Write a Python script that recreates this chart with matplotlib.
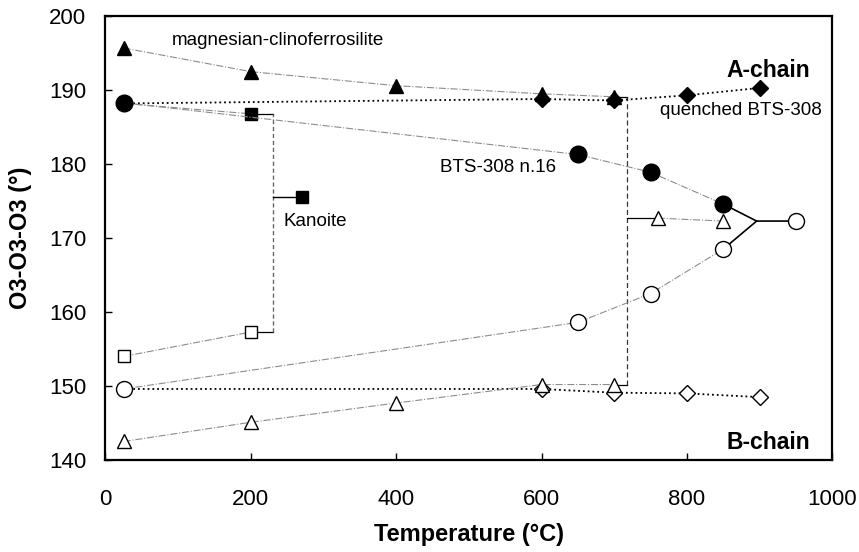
import matplotlib.pyplot as plt

plt.rcParams['font.family'] = ['Liberation Sans', 'DejaVu Sans']

# magnesian-clinoferrosilite
mcf_T = [25, 200, 400, 600, 700]
mcf_A = [195.7, 192.5, 190.6, 189.5, 189.1]
mcf_B = [142.5, 145.1, 147.7, 150.2, 150.2]
# high-T A-chain (open triangles above transition)
mcf_hT = [760, 850]
mcf_hA = [172.7, 172.3]
mcf_trans = 718

# Kanoite
kan_T = [25, 200]
kan_A = [188.2, 186.8]
kan_B = [154.0, 157.3]
kan_trans = 230
kan_label_pt = (270, 175.5)

# BTS-308 n.16
bts_T = [25, 650, 750, 850]
bts_A = [188.3, 181.3, 178.9, 174.6]
bts_B = [149.6, 158.6, 162.5, 168.5]
bts_join = (896, 172.3)
bts_hT = [950]
bts_hV = [172.3]

# quenched BTS-308
q_T = [25, 600, 700, 800, 900]
q_A = [188.2, 188.8, 188.6, 189.3, 190.3]
q_B = [149.6, 149.6, 149.1, 149.0, 148.5]

fig = plt.figure(figsize=(8.59, 5.52), dpi=100)
ax = fig.add_axes([0.1228, 0.1667, 0.846, 0.804])

gray = dict(color='#8c8c8c', lw=0.8, ls='-.')

# quenched lines (dotted black)
ax.plot(q_T, q_A, color='black', ls=':', lw=1.3, marker='D', ms=8,
        mfc='black', mec='black', markevery=[1, 2, 3, 4], zorder=3)
ax.plot(q_T, q_B, color='black', ls=':', lw=1.3, marker='D', ms=8,
        mfc='white', mec='black', markevery=[1, 2, 3, 4], zorder=3)

# magnesian-clinoferrosilite
ax.plot(mcf_T, mcf_A, marker='^', ms=10, mfc='black', mec='black', zorder=4, **gray)
ax.plot(mcf_T, mcf_B, marker='^', ms=10, mfc='white', mec='black', zorder=4, **gray)
ax.plot(mcf_hT, mcf_hA, marker='^', ms=10, mfc='white', mec='black', zorder=4, **gray)
ax.plot([mcf_T[-1], mcf_trans], [mcf_A[-1], mcf_A[-1]], color='black', lw=0.9, zorder=2)
ax.plot([mcf_T[-1], mcf_trans], [mcf_B[-1], mcf_B[-1]], color='black', lw=0.9, zorder=2)
ax.plot([mcf_trans, mcf_trans], [mcf_B[-1], mcf_A[-1]], color='#333333', lw=0.9,
        ls=(0, (4, 2.5)), zorder=2)
ax.plot([mcf_trans, mcf_hT[0]], [mcf_hA[0], mcf_hA[0]], color='black', lw=0.9, zorder=2)

# Kanoite
ax.plot(kan_T, kan_A, marker='s', ms=8, mfc='black', mec='black', markevery=[1], zorder=4, **gray)
ax.plot(kan_T, kan_B, marker='s', ms=8, mfc='white', mec='black', zorder=4, **gray)
ax.plot([kan_T[-1], kan_trans], [kan_A[-1], kan_A[-1]], color='black', lw=0.9, zorder=2)
ax.plot([kan_T[-1], kan_trans], [kan_B[-1], kan_B[-1]], color='black', lw=0.9, zorder=2)
ax.plot([kan_trans, kan_trans], [kan_B[-1], kan_A[-1]], color='#666666', lw=1.0,
        ls=(0, (3, 2)), zorder=2)
ax.plot([kan_trans, kan_label_pt[0]], [kan_label_pt[1], kan_label_pt[1]], color='black',
        lw=1.0, marker='s', ms=8, mfc='black', markevery=[1], zorder=4)

# BTS-308 n.16
ax.plot(bts_T, bts_A, marker='o', ms=12, mfc='black', mec='black', zorder=5, **gray)
ax.plot(bts_T, bts_B, marker='o', ms=11.5, mfc='white', mec='black', zorder=5, **gray)
ax.plot([bts_T[-1], bts_join[0], bts_hT[0]], [bts_A[-1], bts_join[1], bts_hV[0]],
        color='black', lw=1.2, zorder=2)
ax.plot([bts_T[-1], bts_join[0]], [bts_B[-1], bts_join[1]], color='black', lw=1.2, zorder=2)
ax.plot(bts_hT, bts_hV, ls='none', marker='o', ms=11.5, mfc='white', mec='black', zorder=5)

# labels
ax.text(91, 196.65, 'magnesian-clinoferrosilite', fontsize=13.5, va='center')
ax.text(970, 192.7, 'A-chain', fontsize=16.5, fontweight='bold', va='center', ha='right')
ax.text(763, 187.3, 'quenched BTS-308', fontsize=13.5, va='center')
ax.text(460, 179.6, 'BTS-308 n.16', fontsize=13.5, va='center')
ax.text(245, 172.3, 'Kanoite', fontsize=13.5, va='center')
ax.text(970, 142.4, 'B-chain', fontsize=16.5, fontweight='bold', va='center', ha='right')

ax.set_xlim(0, 1000)
ax.set_ylim(140, 200)
ax.set_xticks(range(0, 1001, 200))
ax.set_yticks(range(140, 201, 10))
ax.tick_params(direction='in', length=5, width=1, labelsize=16)
ax.tick_params(axis='x', pad=21)
ax.tick_params(axis='y', pad=14)
for s in ax.spines.values():
    s.set_linewidth(1.6)
ax.set_xlabel('Temperature (°C)', fontsize=17, fontweight='bold', labelpad=9)
ax.set_ylabel('O3-O3-O3 (°)', fontsize=17, fontweight='bold', labelpad=12)

fig.savefig('out.png', dpi=100)
